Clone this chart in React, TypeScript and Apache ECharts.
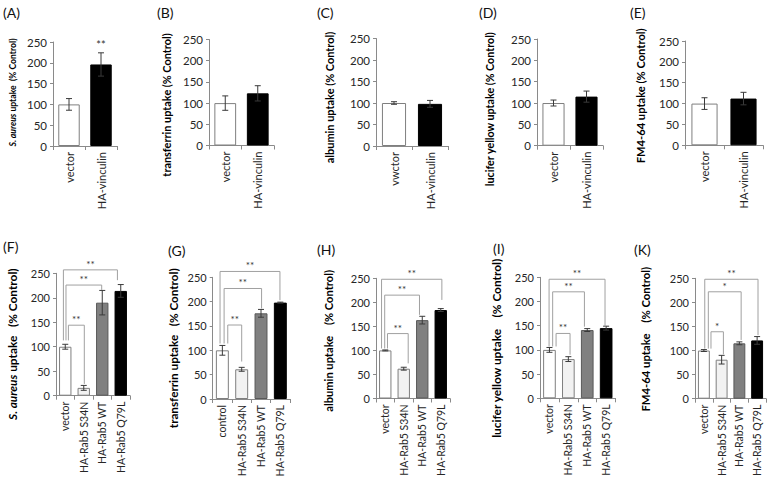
import React, { useEffect, useRef } from "react";
import * as echarts from "echarts";

// ---------- data ----------
const catsVinculin = ["vector", "HA-vinculin"];
const catsVinculinC = ["vwctor", "HA-vinculin"];
const catsRab5 = ["vector", "HA-Rab5 S34N", "HA-Rab5 WT", "HA-Rab5 Q79L"];
const catsRab5G = ["control", "HA-Rab5 S34N", "HA-Rab5 WT", "HA-Rab5 Q79L"];
const yTicks = [0, 50, 100, 150, 200, 250];

const valuesA = [100, 196];
const errorsA = [14, 28];
const starsA = ["", "**"];
const valuesB = [100, 123];
const errorsB = [17, 18];
const valuesC = [100, 98];
const errorsC = [3, 8];
const valuesD = [100, 115];
const errorsD = [7, 13];
const valuesE = [100, 112];
const errorsE = [14, 15];

const valuesF = [100, 16, 190, 214];
const errorsF = [5, 5, 25, 13];
const valuesG = [100, 61, 176, 198];
const errorsG = [10, 4, 8, 1];
const valuesH = [100, 62, 163, 184];
const errorsH = [1, 3, 8, 3];
const valuesI = [100, 81, 141, 145];
const errorsI = [5, 5, 3, 4];
const valuesK = [100, 81, 115, 121];
const errorsK = [2, 9, 3, 8];

// brackets: [left position, right position (category units), left foot, right foot, top, label]
type Bracket = [number, number, number, number, number, string];
const bracketsF: Bracket[] = [
  [0.17, 1.03, 113, 24, 144, "**"],
  [0.04, 1.97, 113, 216, 226, "**"],
  [-0.1, 2.82, 113, 236, 257, "**"],
];
const bracketsG: Bracket[] = [
  [0.28, 1.0, 114, 77, 152, "**"],
  [0.09, 2.03, 114, 186, 227, "**"],
  [-0.12, 2.98, 114, 203, 262, "**"],
];
const bracketsH: Bracket[] = [
  [0.12, 1.24, 104, 73, 135, "**"],
  [-0.03, 1.85, 104, 174, 215, "**"],
  [-0.2, 3.06, 104, 205, 248, "**"],
];
const bracketsI: Bracket[] = [
  [0.35, 1.09, 107, 90, 134, "**"],
  [0.17, 1.85, 107, 148, 220, "**"],
  [-0.02, 2.94, 107, 148, 246, "**"],
];
const bracketsK: Bracket[] = [
  [0.4, 1.1, 104, 92, 139, "*"],
  [0.25, 2.1, 104, 122, 222, "*"],
  [0.05, 3.05, 104, 132, 248, "**"],
];

const titleA = "S. aureus uptake  (% Control)";
const titleB = "transferrin uptake (% Control)";
const titleC = "albumin uptake (% Control)";
const titleD = "lucifer yellow uptake (% Control)";
const titleE = "FM4-64 uptake (% Control)";
const titleF = "S. aureus uptake   (% Control)";
const titleG = "transferrin uptake   (% Control)";
const titleH = "albumin uptake    (% Control)";
const titleI = "lucifer yellow uptake    (% Control)";
const titleK = "FM4-64 uptake    (% Control)";

// ---------- styling ----------
const FONT = "Lato, 'Noto Sans', sans-serif";
const AXIS_COLOR = "#8a8a8a";
const TEXT_COLOR = "#262626";
const BRACKET_COLOR = "#a0a0a0";
const topFills = ["#ffffff", "#000000"];
const topBorders = ["#7f7f7f", "#000000"];
const bottomFills = ["#ffffff", "#f2f2f2", "#808080", "#000000"];
const bottomBorders = ["#7f7f7f", "#7f7f7f", "#595959", "#000000"];

type Panel = {
  label: string;
  cats: string[];
  values: number[];
  errors: number[];
  stars?: string[];
  brackets?: Bracket[];
  title: string;
  fills: string[];
  borders: string[];
  L: number; R: number; T: number; B: number;
  tickSize: number; catSize: number;
  lx: number; ly: number;
  tx: number; // title centre x
  t0: number; t1: number; // title: bottom y, top y
};

const panels: Panel[] = [
  { label: "(A)", cats: catsVinculin, values: valuesA, errors: errorsA, stars: starsA, title: titleA, fills: topFills, borders: topBorders,
    L: 53, R: 117, T: 42, B: 146, tickSize: 11.5, catSize: 11, lx: 3, ly: 13, tx: 12, t0: 146.7, t1: 38.3 },
  { label: "(B)", cats: catsVinculin, values: valuesB, errors: errorsB, title: titleB, fills: topFills, borders: topBorders,
    L: 209, R: 274, T: 39.5, B: 145.5, tickSize: 11.5, catSize: 11, lx: 157, ly: 13, tx: 166.7, t0: 176.7, t1: 33.3 },
  { label: "(C)", cats: catsVinculinC, values: valuesC, errors: errorsC, title: titleC, fills: topFills, borders: topBorders,
    L: 376, R: 448, T: 38.5, B: 146, tickSize: 11.5, catSize: 11, lx: 317, ly: 13, tx: 329, t0: 163.3, t1: 31.7 },
  { label: "(D)", cats: catsVinculin, values: valuesD, errors: errorsD, title: titleD, fills: topFills, borders: topBorders,
    L: 537, R: 603, T: 39, B: 145.7, tickSize: 11.5, catSize: 11, lx: 479, ly: 13, tx: 489, t0: 186.7, t1: 31.7 },
  { label: "(E)", cats: catsVinculin, values: valuesE, errors: errorsE, title: titleE, fills: topFills, borders: topBorders,
    L: 685, R: 763, T: 41, B: 145.3, tickSize: 11.5, catSize: 11, lx: 630, ly: 13, tx: 640, t0: 163.3, t1: 28.3 },
  { label: "(F)", cats: catsRab5, values: valuesF, errors: errorsF, brackets: bracketsF, title: titleF, fills: bottomFills, borders: bottomBorders,
    L: 56, R: 130, T: 273.3, B: 395.7, tickSize: 11, catSize: 10.5, lx: 3, ly: 247, tx: 12.7, t0: 420, t1: 268.3 },
  { label: "(G)", cats: catsRab5G, values: valuesG, errors: errorsG, brackets: bracketsG, title: titleG, fills: bottomFills, borders: bottomBorders,
    L: 212.7, R: 290, T: 277.3, B: 399, tickSize: 11, catSize: 10.5, lx: 168, ly: 251, tx: 173.3, t0: 428.3, t1: 268.3 },
  { label: "(H)", cats: catsRab5, values: valuesH, errors: errorsH, brackets: bracketsH, title: titleH, fills: bottomFills, borders: bottomBorders,
    L: 376, R: 450, T: 278.3, B: 398.5, tickSize: 11, catSize: 10.5, lx: 317, ly: 250, tx: 328, t0: 411.7, t1: 270 },
  { label: "(I)", cats: catsRab5, values: valuesI, errors: errorsI, brackets: bracketsI, title: titleI, fills: bottomFills, borders: bottomBorders,
    L: 540, R: 615.6, T: 277.3, B: 398.3, tickSize: 11, catSize: 10.5, lx: 493, ly: 249, tx: 496.7, t0: 438.3, t1: 258.3 },
  { label: "(K)", cats: catsRab5, values: valuesK, errors: errorsK, brackets: bracketsK, title: titleK, fills: bottomFills, borders: bottomBorders,
    L: 695, R: 766, T: 278.3, B: 398.7, tickSize: 11, catSize: 10.5, lx: 634, ly: 250, tx: 645, t0: 411.7, t1: 266.7 },
];

let measureCtx: CanvasRenderingContext2D | null = null;
function textWidth(text: string, size: number, italic: boolean): number {
  if (!measureCtx) measureCtx = document.createElement("canvas").getContext("2d");
  if (!measureCtx) return text.length * size * 0.5;
  measureCtx.font = `${italic ? "italic " : ""}bold ${size}px Lato`;
  return measureCtx.measureText(text).width;
}

function makeTitle(text: string, cx: number, yBottom: number, yTop: number): any {
  const target = yBottom - yTop;
  const italicPart = text.startsWith("S. aureus") ? "S. aureus" : "";
  const rest = italicPart ? text.slice(italicPart.length) : text;
  const w10 = (italicPart ? textWidth(italicPart, 10, true) : 0) + textWidth(rest, 10, false);
  const size = Math.max(7, Math.min(14, (10 * target) / w10));
  const styleText = italicPart ? `{i|${italicPart}}${rest}` : text;
  return {
    type: "text",
    x: cx,
    y: (yBottom + yTop) / 2,
    rotation: Math.PI / 2,
    silent: true,
    style: {
      text: styleText,
      align: "center",
      verticalAlign: "middle",
      fontSize: size,
      fontWeight: "bold",
      fontFamily: FONT,
      fill: "#000",
      rich: { i: { fontSize: size, fontWeight: "bold", fontStyle: "italic", fontFamily: FONT, fill: "#000" } },
    },
  };
}

function buildOption() {
  const grid: any[] = [];
  const xAxis: any[] = [];
  const yAxis: any[] = [];
  const series: any[] = [];
  const graphic: any[] = [];

  panels.forEach((p, i) => {
    grid.push({ left: p.L, top: p.T, width: p.R - p.L, height: p.B - p.T, containLabel: false });
    xAxis.push({
      type: "category",
      gridIndex: i,
      data: p.cats,
      boundaryGap: true,
      axisLine: { lineStyle: { color: AXIS_COLOR, width: 1 } },
      axisTick: { show: true, length: 4, lineStyle: { color: AXIS_COLOR } },
      axisLabel: { rotate: 90, interval: 0, margin: 6, fontSize: p.catSize, fontFamily: FONT, color: TEXT_COLOR },
      splitLine: { show: false },
    });
    yAxis.push({
      type: "value",
      gridIndex: i,
      min: yTicks[0],
      max: yTicks[yTicks.length - 1],
      interval: yTicks[1] - yTicks[0],
      axisLine: { show: true, lineStyle: { color: AXIS_COLOR, width: 1 } },
      axisTick: { show: true, length: 3, lineStyle: { color: AXIS_COLOR } },
      axisLabel: { margin: 6, fontSize: p.tickSize, fontFamily: FONT, color: TEXT_COLOR },
      splitLine: { show: false },
    });
    series.push({
      type: "bar",
      xAxisIndex: i,
      yAxisIndex: i,
      barCategoryGap: "33%",
      data: p.values.map((v, k) => ({
        value: v,
        itemStyle: { color: p.fills[k], borderColor: p.borders[k], borderWidth: 1 },
      })),
      z: 2,
    });
    series.push({
      type: "custom",
      xAxisIndex: i,
      yAxisIndex: i,
      z: 4,
      data: p.values.map((v, k) => [k, v, p.errors[k]]),
      encode: { x: 0, y: 1 },
      renderItem: (params: any, api: any) => {
        const x = api.value(0);
        const v = api.value(1);
        const e = api.value(2);
        const top = api.coord([x, v + e]);
        const bot = api.coord([x, v - e]);
        const cap = 3;
        const st = { stroke: "#3a3a3a", lineWidth: 1 };
        const children: any[] = [
          { type: "line", shape: { x1: top[0], y1: top[1], x2: bot[0], y2: bot[1] }, style: st },
          { type: "line", shape: { x1: top[0] - cap, y1: top[1], x2: top[0] + cap, y2: top[1] }, style: st },
          { type: "line", shape: { x1: bot[0] - cap, y1: bot[1], x2: bot[0] + cap, y2: bot[1] }, style: st },
        ];
        const star = p.stars ? p.stars[params.dataIndex] : "";
        if (star) {
          children.push({
            type: "text",
            style: { text: star, x: top[0], y: top[1] - 3, align: "center", verticalAlign: "bottom", fontSize: 11, fontFamily: FONT, fill: "#333" },
          });
        }
        return { type: "group", children };
      },
    });
    if (p.brackets) {
      const br = p.brackets;
      series.push({
        type: "custom",
        xAxisIndex: i,
        yAxisIndex: i,
        z: 5,
        clip: false,
        data: br.map((b) => [0, b[4]]),
        encode: { x: 0, y: 1 },
        renderItem: (params: any, api: any) => {
          const b = br[params.dataIndex];
          const base = api.coord([0, b[4]]);
          const bw = api.size([1, 0])[0];
          const xl = base[0] + b[0] * bw;
          const xr = base[0] + b[1] * bw;
          const yt = base[1];
          const yl = api.coord([0, b[2]])[1];
          const yr = api.coord([0, b[3]])[1];
          return {
            type: "group",
            children: [
              {
                type: "polyline",
                shape: { points: [[xl, yl], [xl, yt], [xr, yt], [xr, yr]] },
                style: { stroke: BRACKET_COLOR, lineWidth: 1, fill: "none" },
              },
              {
                type: "text",
                style: { text: b[5], x: (xl + xr) / 2, y: yt - 1, align: "center", verticalAlign: "bottom", fontSize: 10, fontFamily: FONT, fill: "#333" },
              },
            ],
          };
        },
      });
    }
    graphic.push({
      type: "text",
      left: p.lx,
      top: p.ly - 8,
      style: { text: p.label, fontSize: 14, fontFamily: FONT, fill: "#111" },
    });
    graphic.push(makeTitle(p.title, p.tx, p.t0, p.t1));
  });

  return { animation: false, backgroundColor: "#ffffff", grid, xAxis, yAxis, series, graphic };
}

export default function App() {
  const ref = useRef<HTMLDivElement>(null);
  useEffect(() => {
    if (!ref.current) return;
    const chart = echarts.init(ref.current, undefined, { renderer: "svg" });
    chart.setOption(buildOption() as any);
    return () => chart.dispose();
  }, []);
  return (
    <div
      ref={ref}
      style={{ position: "absolute", left: 0, top: 0, width: 768, height: 481, background: "#fff" }}
    />
  );
}
